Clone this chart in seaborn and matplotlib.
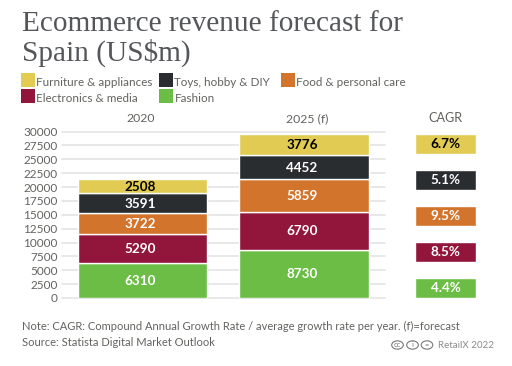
import matplotlib
matplotlib.use("Agg")
import matplotlib.pyplot as plt
from matplotlib.patches import Rectangle, Circle
import numpy as np
import seaborn as sns

periods = ["2020", "2025 (f)"]
categories = ["Fashion", "Electronics & media", "Food & personal care", "Toys, hobby & DIY", "Furniture & appliances"]
fashion = [6310, 8730]
electronics = [5290, 6790]
food = [3722, 5859]
toys = [3591, 4452]
furniture = [2508, 3776]
colors = ["#6CBD45", "#92153B", "#D2742C", "#2A2D30", "#E2CB52"]
label_colors = ["white", "white", "white", "white", "black"]
cagr_labels = ["6.7%", "5.1%", "9.5%", "8.5%", "4.4%"]
cagr_names = ["Furniture & appliances", "Toys, hobby & DIY", "Food & personal care", "Electronics & media", "Fashion"]
cagr_colors = ["#E2CB52", "#2A2D30", "#D2742C", "#92153B", "#6CBD45"]
y_ticks = list(range(0, 30001, 2500))

W, H = 512, 366
sns.set_theme(style="white")
BODY = "Lato"
TXT = "#62625f"
plt.rcParams["font.family"] = [BODY, "DejaVu Sans"]
fig = plt.figure(figsize=(W / 100, H / 100), dpi=100, facecolor="white")

def box(x0, y0, x1, y1):
    return [x0 / W, 1 - y1 / H, (x1 - x0) / W, (y1 - y0) / H]

def ftext(x, y, s, size, **kw):
    kw.setdefault("color", TXT)
    kw.setdefault("va", "center")
    fig.text(x / W, 1 - y / H, s, fontsize=size * 0.72, **kw)

# stacked bars
ax = fig.add_axes(box(61.6, 131.5, 385, 298))
bottom = np.zeros(2)
series = [fashion, electronics, food, toys, furniture]
for vals, c, lc in zip(series, colors, label_colors):
    sns.barplot(x=periods, y=vals, bottom=bottom, color=c, saturation=1, width=0.8,
                edgecolor="white", linewidth=1, ax=ax, zorder=3)
    anns = ax.bar_label(ax.containers[-1], labels=[str(v) for v in vals], label_type="center",
                        color=lc, fontweight="bold", fontsize=13.5 * 0.72, zorder=5)
    for a in anns:
        a.xyann = (-1.5, -0.5)
    bottom += np.array(vals)
ax.set_xlim(-0.5, 1.5)
ax.set_ylim(0, 30000)
ax.set_yticks(y_ticks)
ax.set_yticklabels([str(t) for t in y_ticks])
ax.tick_params(axis="y", length=0, pad=3, labelsize=11.8 * 0.72, labelcolor=TXT)
ax.set_xticks([])
ax.set_xlabel("")
ax.grid(axis="y", color="#e6e6e6", linewidth=1.3, zorder=0)
ax.set_axisbelow(True)
for s in ax.spines.values():
    s.set_visible(False)
for line in ax.get_ygridlines():
    line.set_clip_on(False)

# CAGR column
ax2 = fig.add_axes(box(415, 126, 476, 306))
sns.barplot(y=cagr_names, x=[1] * 5, hue=cagr_names, palette=cagr_colors, saturation=1,
            width=20 / 36, legend=False, ax=ax2, dodge=False)
ax2.set_xlim(0, 1)
ax2.axis("off")
for i, lab in enumerate(cagr_labels):
    ax2.text(0.5, i, lab, ha="center", va="center", fontweight="bold", fontsize=13.5 * 0.72,
             color="black" if i == 0 else "white")

# titles
TITLE_FONT = "Liberation Serif"
ftext(22, 24, "Ecommerce revenue forecast for", 29.3, family=TITLE_FONT, color="#55565a")
ftext(22, 53, "Spain (US$m)", 29.3, family=TITLE_FONT, color="#55565a")

# legend
legend_items = [(21, 80, 4), (159, 80, 3), (281, 80, 2), (21, 96, 1), (159, 96, 0)]
for x, y, idx in legend_items:
    fig.add_artist(Rectangle((x / W, 1 - (y + 7) / H), 14 / W, 14 / H, transform=fig.transFigure,
                             facecolor=colors[idx], edgecolor="none"))
    ftext(x + 15.5, y + 2, categories[idx], 11.6)

# headers
ftext(141, 118.5, periods[0], 12.3, ha="center")
ftext(307, 118.5, periods[1], 12.3, ha="center")
ftext(445.5, 118.5, "CAGR", 12.6, ha="center")

# notes
ftext(22, 326, "Note: CAGR: Compound Annual Growth Rate / average growth rate per year. (f)=forecast", 11.1)
ftext(22, 342, "Source: Statista Digital Market Outlook", 11.1)

# licence marks
for cx, t in zip([397.5, 412.5, 427], ["cc", "i", "="]):
    fig.add_artist(Circle((cx / W, 1 - 345 / H), 5.8 / W, transform=fig.transFigure,
                          fill=False, edgecolor="#77787a", linewidth=0.8))
    ftext(cx, 344.5, t, 7.5, ha="center", color="#77787a")
ftext(438, 345, "RetailX 2022", 9.8, color="#8a8b8d")

fig.savefig("out.png", dpi=100)
